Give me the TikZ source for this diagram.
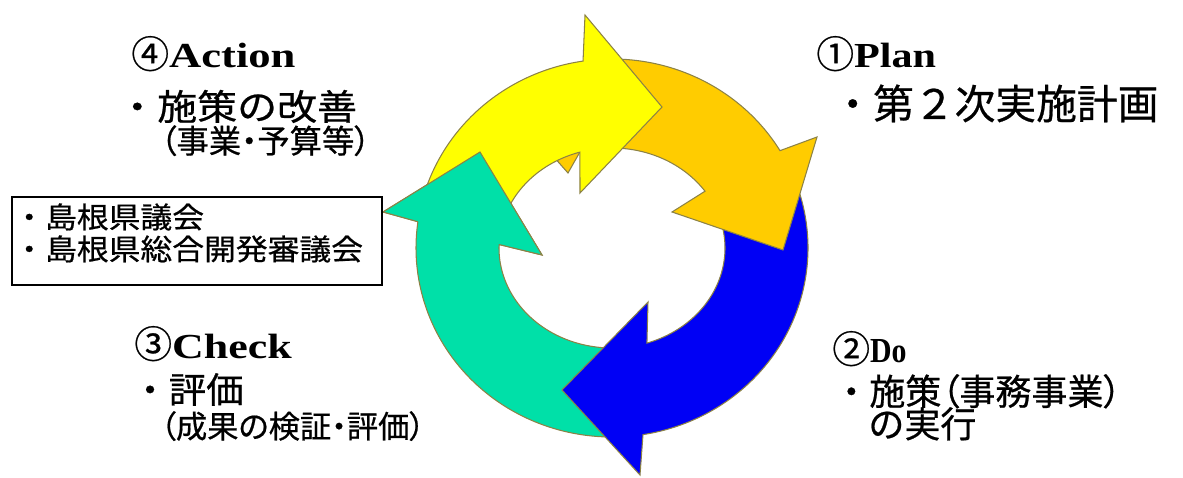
\documentclass[tikz,border=0pt]{standalone}
\usepackage{fontspec}
\usepackage{graphicx}
\usetikzlibrary{calc}
\newfontfamily\jp[FakeBold=0.6]{Noto Sans CJK JP}
\newfontfamily\jpp[FakeBold=0.6, RawFeature=+palt]{Noto Sans CJK JP}
\newfontfamily\rom{Liberation Serif}
\definecolor{cyYellow}{RGB}{255,255,0}
\definecolor{cyOrange}{RGB}{255,204,0}
\definecolor{cyBlue}{RGB}{0,0,245}
\definecolor{cyGreen}{RGB}{0,224,168}
\definecolor{rim}{RGB}{140,130,70}
\def\sz#1{\fontsize{#1}{#1}\selectfont}
\def\wide#1#2{\scalebox{#1}[1]{#2}}
\def\ringarrow[#1](#2:#3)(#4)(#5)(#6)(#7:#8){\filldraw[#1] ($(ring)+(#2:196 and 189)$) arc[start angle=#2, end angle=#3, x radius=196, y radius=189] -- (#4) -- (#5) -- (#6) -- ($(ring)+(#7:113 and 100)$) arc[start angle=#7, end angle=#8, x radius=113, y radius=100] -- cycle;}
\tikzset{txt/.style={inner sep=0pt, anchor=base west}, arrowfill/.style={draw=rim, line width=0.6pt, line join=miter}}

\begin{document}
\begin{tikzpicture}[x=0.02cm, y=0.02cm]
			%%%%% START %%%%%
			\useasboundingbox (0, 0) rectangle (1183, 477);
			\coordinate (ring) at (612, 229);
			
			\ringarrow[arrowfill, fill=cyGreen](-85:-188)(383,265)(480,325)(542,222)(-182:-80)
			\ringarrow[arrowfill, fill=cyBlue](20:-80.9)(640,2)(562,87)(648,175)(-72:22)
			\filldraw[arrowfill, fill=cyOrange] ($(ring)+(93.5:196 and 189)$) arc[start angle=93.5, end angle=31, x radius=196, y radius=189] -- (817,340) -- (783,227) -- (672,265) -- ($(ring)+(34.6:113 and 100)$) arc[start angle=34.6, end angle=96, x radius=113, y radius=100] -- (585,334) -- (568,304) -- (545,330) -- cycle;
			\ringarrow[arrowfill, fill=cyYellow](165:98.5)(585,462)(662,370)(580,284)(106.5:160)
			\filldraw[arrowfill, fill=cyGreen] ($(ring)+(172:196 and 189)$) -- (383,265) -- (480,325) -- (542,222) -- ($(ring)+(178:113 and 100)$);
			
			\node[txt] (act) at (131, 409) {{\jp\sz{21.5pt}④}{\rom\bfseries\sz{20pt}\wide{1.27}{Action}}};
			\node[txt] (actline) at (117, 357) {\jp\sz{20.3pt}\wide{1.12}{・施策の改善}};
			\node[txt] (actnote) at (160, 324) {\jpp\sz{18.4pt}（事業・予算等）};
			
			\node[draw, line width=1pt, minimum width=7.4cm, minimum height=1.76cm, inner sep=0pt] (council) at (197, 236) {};
			\node[txt] (councilA) at (13, 249) {\jp\sz{16.6pt}\wide{1.09}{・島根県議会}};
			\node[txt] (councilB) at (13, 217) {\jp\sz{16.6pt}\wide{1.09}{・島根県総合開発審議会}};
			
			\node[txt] (plan) at (816, 409) {{\jp\sz{21.5pt}①}{\rom\bfseries\sz{20pt}\wide{1.2}{Plan}}};
			\node[txt] (planline) at (832, 358) {\jp\sz{23.2pt}・第２次実施計画};
			
			\node[txt] (do) at (832, 114) {{\jp\sz{21.5pt}②}{\rom\bfseries\sz{20pt}\wide{0.85}{Do}}};
			\node[txt] (doline) at (833, 72) {\sz{20.5pt}{\jp ・}{\jpp 施策（事務事業）}};
			\node[txt] (doline2) at (868, 39.5) {\jp\sz{20.5pt}の実行};
			
			\node[txt] (chk) at (134, 119) {{\jp\sz{21.5pt}③}{\rom\bfseries\sz{20pt}\wide{1.25}{Check}}};
			\node[txt] (chkline) at (131, 74) {\jp\sz{20.3pt}\wide{1.05}{・評価}};
			\node[txt] (chknote) at (160, 39) {\jpp\sz{17.8pt}（成果の検証・評価）};
			%%%%% END %%%%%
		\end{tikzpicture}
\end{document}
